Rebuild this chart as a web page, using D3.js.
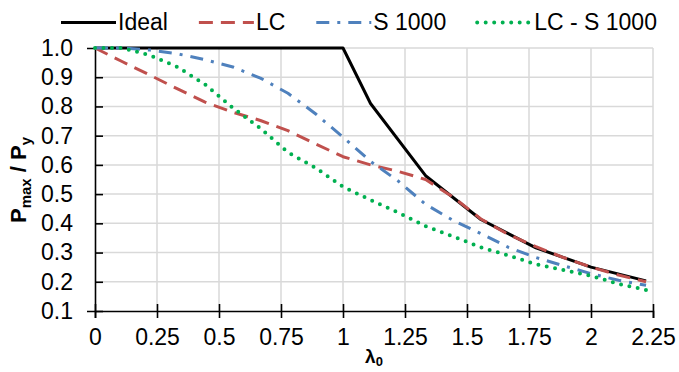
<!DOCTYPE html>
<meta charset="utf-8">
<style>
    body { margin: 0; background: #fff; }
    text { font-family: "Liberation Sans", Arial, sans-serif; fill: #000; }
</style>
<body>
<div class="container"></div>
<script src="https://cdn.jsdelivr.net/npm/d3@7"></script>
<script>

// data
const lambda = [0, 0.111, 0.222, 0.333, 0.444, 0.556, 0.667, 0.778, 0.889, 1, 1.111,
                1.222, 1.333, 1.444, 1.556, 1.667, 1.778, 1.889, 2, 2.111, 2.222];
const idealLambda = [0, 1, 1.111, 1.333, 1.556, 1.778, 2, 2.222];
const ideal = [1, 1, 0.81, 0.563, 0.413, 0.316, 0.25, 0.203];
const lc = [1, 0.953, 0.907, 0.86, 0.815, 0.78, 0.752, 0.717, 0.672, 0.628, 0.6,
            0.578, 0.55, 0.49, 0.415, 0.362, 0.32, 0.283, 0.25, 0.223, 0.2];
const s1000 = [1, 1, 0.993, 0.98, 0.96, 0.935, 0.897, 0.845, 0.775, 0.695, 0.612,
               0.545, 0.465, 0.41, 0.365, 0.318, 0.283, 0.255, 0.228, 0.205, 0.188];
const lcS1000 = [1, 1, 0.975, 0.935, 0.875, 0.795, 0.725, 0.643, 0.59, 0.525, 0.48,
                 0.437, 0.39, 0.355, 0.318, 0.29, 0.26, 0.24, 0.22, 0.193, 0.172];
const xTicks = [0, 0.25, 0.5, 0.75, 1, 1.25, 1.5, 1.75, 2, 2.25];
const yTicks = [0.1, 0.2, 0.3, 0.4, 0.5, 0.6, 0.7, 0.8, 0.9, 1.0];

const series = [
    { name: 'Ideal', x: idealLambda, y: ideal, color: '#000000', dash: null, cap: 'butt' },
    { name: 'LC', x: lambda, y: lc, color: '#C0504D', dash: '14,8', cap: 'butt' },
    { name: 'S 1000', x: lambda, y: s1000, color: '#4F81BD', dash: '13,8,3,8', cap: 'butt' },
    { name: 'LC - S 1000', x: lambda, y: lcS1000, color: '#00B050', dash: '0,8.5', cap: 'round' }
];

const width = 679;
const height = 372;

const svg = d3.select('.container')
    .append('svg')
    .attr('width', width)
    .attr('height', height);

const x = d3.scaleLinear().domain([0, 2.25]).range([95, 653]);
const y = d3.scaleLinear().domain([0.1, 1.0]).range([311, 48]);

// grid
svg.append('g')
    .selectAll('line.vg')
    .data(xTicks.slice(1))
    .enter().append('line')
    .attr('x1', d => x(d)).attr('x2', d => x(d))
    .attr('y1', y(1)).attr('y2', y(0.1))
    .style('stroke', '#d9d9d9').style('stroke-width', 1.5);

svg.append('g')
    .selectAll('line.hg')
    .data(yTicks.slice(1))
    .enter().append('line')
    .attr('x1', x(0)).attr('x2', x(2.25))
    .attr('y1', d => y(d)).attr('y2', d => y(d))
    .style('stroke', '#d9d9d9').style('stroke-width', 1.5);

// axes
const xAxis = svg.append('g')
    .attr('transform', `translate(0,${y(0.1)})`)
    .call(d3.axisBottom(x).tickValues(xTicks).tickSize(7).tickFormat(d => d3.format('')(d)));
const yAxis = svg.append('g')
    .attr('transform', `translate(${x(0)},0)`)
    .call(d3.axisLeft(y).tickValues(yTicks).tickSize(8).tickFormat(d3.format('.1f')));

[xAxis, yAxis].forEach(g => {
    g.select('.domain').style('stroke', '#000').style('stroke-width', 1.6);
    g.selectAll('.tick line').style('stroke', '#000').style('stroke-width', 1.6);
    g.selectAll('.tick text').style('font-size', '23px')
        .style('font-family', '"Liberation Sans", Arial, sans-serif').attr('fill', '#000');
});
// ticks cross the axis
xAxis.selectAll('.tick line').attr('y1', -7);
xAxis.selectAll('.tick text').attr('y', 18);
yAxis.selectAll('.tick line').attr('x2', 8);
yAxis.selectAll('.tick text').attr('x', -22);

// lines
series.forEach(s => {
    const line = d3.line()
        .x((d, i) => x(s.x[i]))
        .y(d => y(d));
    svg.append('path')
        .datum(s.y)
        .attr('d', line)
        .style('fill', 'none')
        .style('stroke', s.color)
        .style('stroke-width', s.cap === 'round' ? 4 : 3)
        .style('stroke-dasharray', s.dash)
        .style('stroke-linecap', s.cap)
        .style('stroke-linejoin', 'round');
});

// legend
const legend = svg.append('g');
let lx = 61;
series.forEach(s => {
    legend.append('line')
        .attr('x1', lx).attr('x2', lx + 55)
        .attr('y1', 22.5).attr('y2', 22.5)
        .style('stroke', s.color)
        .style('stroke-width', s.cap === 'round' ? 4 : 3)
        .style('stroke-dasharray', s.dash)
        .style('stroke-linecap', s.cap);
    const t = legend.append('text')
        .attr('x', lx + 57).attr('y', 30)
        .style('font-size', '23px')
        .text(s.name);
    lx += 57 + t.node().getComputedTextLength() + 31;
});

// axis titles
const yt = svg.append('text')
    .attr('transform', 'translate(26,180) rotate(-90)')
    .attr('text-anchor', 'middle')
    .style('font-size', '22px')
    .style('font-weight', 'bold');
yt.append('tspan').text('P');
yt.append('tspan').text('max').style('font-size', '15px').attr('dy', 5);
yt.append('tspan').text(' / P').attr('dy', -5);
yt.append('tspan').text('y').style('font-size', '15px').attr('dy', 5);

const xt = svg.append('text')
    .attr('x', 374).attr('y', 363)
    .attr('text-anchor', 'middle')
    .style('font-size', '19px')
    .style('font-weight', 'bold');
xt.append('tspan').text('λ');
xt.append('tspan').text('0').style('font-size', '13px').attr('dy', 3);

</script>
</body>
